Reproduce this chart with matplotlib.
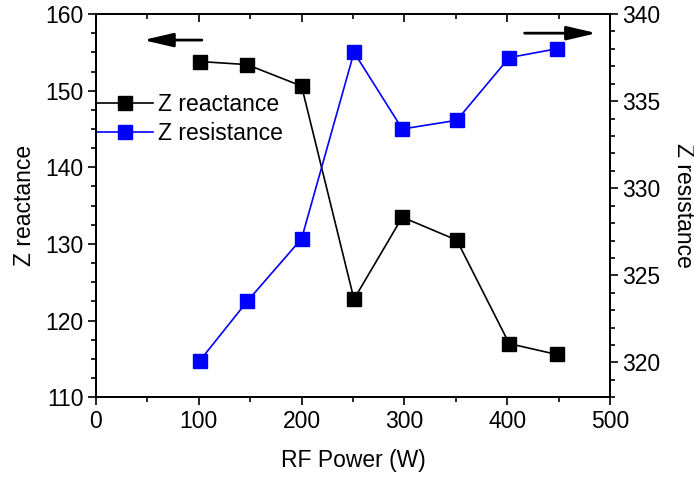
import matplotlib
matplotlib.use('Agg')
from matplotlib import pyplot as plt
from matplotlib.ticker import MultipleLocator

plt.rcParams['font.family'] = ['Liberation Sans', 'DejaVu Sans']

# data
rf_power = [101, 147, 200, 251, 298, 351, 402, 448]
z_reactance = [153.8, 153.4, 150.6, 122.8, 133.5, 130.5, 117.0, 115.6]
z_resistance = [320.1, 323.5, 327.1, 337.8, 333.4, 333.9, 337.5, 338.0]

fig = plt.figure(figsize=(6.94, 4.78), dpi=100)
ax1 = fig.add_axes([0.1383, 0.1688, 0.7406, 0.8019])
ax2 = ax1.twinx()

l1, = ax1.plot(rf_power, z_reactance, color='black', marker='s', markersize=9.5,
               linewidth=1.2, label='Z reactance', clip_on=False)
l2, = ax2.plot(rf_power, z_resistance, color='#0000ff', marker='s', markersize=9.5,
               linewidth=1.2, label='Z resistance', clip_on=False)

ax1.set_xlim(0, 500)
ax1.set_ylim(110, 160)
ax2.set_ylim(318, 340)

ax1.xaxis.set_major_locator(MultipleLocator(100))
ax1.xaxis.set_minor_locator(MultipleLocator(50))
ax1.yaxis.set_major_locator(MultipleLocator(10))
ax1.yaxis.set_minor_locator(MultipleLocator(2.5))
ax2.yaxis.set_major_locator(MultipleLocator(5))
ax2.yaxis.set_minor_locator(MultipleLocator(1))

fs = 16.5
for ax in (ax1, ax2):
    for sp in ax.spines.values():
        sp.set_linewidth(1.3)
    ax.tick_params(which='major', length=6, width=1.2, labelsize=fs, direction='out')
    ax.tick_params(which='minor', length=3.5, width=1.2, direction='out')

ax1.tick_params(axis='x', which='both', top=True)
ax1.tick_params(axis='x', which='major', pad=3)
ax2.tick_params(axis='y', which='both', right=True, left=False, pad=3)
ax1.tick_params(axis='y', which='both', right=False, pad=3)

# top ticks point inward, like the original
for t in ax1.xaxis.get_major_ticks() + ax1.xaxis.get_minor_ticks():
    t.tick2line.set_marker(3)

ax1.set_xlabel('RF Power (W)', fontsize=fs, labelpad=12)
ax1.set_ylabel('Z reactance', fontsize=fs, labelpad=7)
ax2.set_ylabel('Z resistance', fontsize=fs, rotation=270, labelpad=25)

ax1.legend([l1, l2], ['Z reactance', 'Z resistance'], loc='upper left',
           bbox_to_anchor=(0.0, 0.795), frameon=False, fontsize=fs,
           handlelength=2.5, handletextpad=0.2, borderaxespad=0.0,
           borderpad=0.0, labelspacing=0.3)

# direction arrows
arrow = dict(arrowstyle='-|>,head_length=1.8,head_width=0.42',
             color='black', lw=2.0, shrinkA=0, shrinkB=0)
ax1.annotate('', xy=(46, 156.6), xytext=(103, 156.6), arrowprops=arrow)
ax1.annotate('', xy=(487, 157.5), xytext=(417, 157.5), arrowprops=arrow)

fig.savefig('out.png', dpi=100)
